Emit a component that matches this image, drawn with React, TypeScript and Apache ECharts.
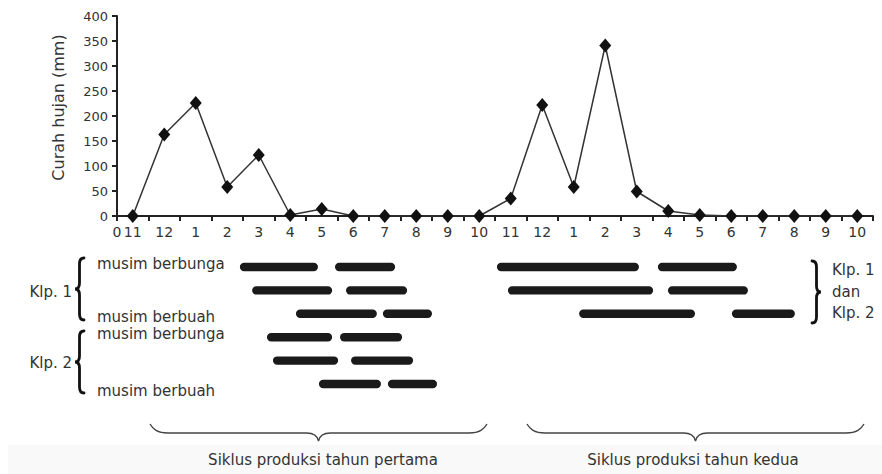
import React, { useEffect, useRef } from 'react';
import * as echarts from 'echarts';

// ---- Data ----
const monthLabels = ['11', '12', '1', '2', '3', '4', '5', '6', '7', '8', '9', '10', '11', '12', '1', '2', '3', '4', '5', '6', '7', '8', '9', '10'];
const rainfall = [0, 163, 226, 58, 122, 2, 14, 0, 0, 0, 0, 0, 35, 222, 58, 341, 49, 10, 2, 0, 0, 0, 0, 0];
const yMax = 400;
const yInterval = 50;
const rowLabels = ['Klp1 berbunga', 'Klp1 tengah', 'Klp1 berbuah', 'Klp2 berbunga', 'Klp2 tengah', 'Klp2 berbuah'];
// [row, start, end] in month units along the axis
const klp1Bars = [
  [0, 3.9, 6.38], [0, 6.92, 8.83],
  [1, 4.29, 6.83], [1, 7.27, 9.21],
  [2, 5.68, 8.25], [2, 8.44, 10.0],
];
const klp2Bars = [
  [3, 4.76, 6.83], [3, 7.08, 9.05],
  [4, 4.95, 7.02], [4, 7.43, 9.4],
  [5, 6.41, 8.38], [5, 8.6, 10.16],
];
const jointBars = [
  [0, 12.06, 16.57], [0, 17.17, 19.68],
  [1, 12.41, 17.02], [1, 17.49, 20.03],
  [2, 14.67, 18.35], [2, 19.52, 21.52],
];

// ---- Decorative brace shapes ----
const braceLeftD = 'M9,0 C5.5,0 4.5,2 4.5,6 L4.5,25 C4.5,29 3,31 0,31 C3,31 4.5,33 4.5,37 L4.5,56 C4.5,60 5.5,62 9,62';
const braceRightD = 'M0,0 C3.5,0 4.5,2 4.5,6 L4.5,25 C4.5,29 6,31 9,31 C6,31 4.5,33 4.5,37 L4.5,56 C4.5,60 3.5,62 0,62';
const braceHD = 'M0,0 C3,5 7,9 18,9 L156.5,9 C163.5,9 167.5,12 168.5,17 C169.5,12 173.5,9 180.5,9 L319,9 C330,9 334,5 337,0';
echarts.graphic.registerShape('braceLeft', echarts.graphic.extendPath(braceLeftD, {}));
echarts.graphic.registerShape('braceRight', echarts.graphic.extendPath(braceRightD, {}));
echarts.graphic.registerShape('braceH', echarts.graphic.extendPath(braceHD, {}));

const FONT = 'DejaVu Sans';
const TXT = '#333';
const AX = '#222';

function label(text: string, x: number, y: number, align: string = 'left', size = 15) {
  return {
    type: 'text',
    x,
    y,
    style: {
      text,
      fill: TXT,
      fontSize: size,
      fontFamily: FONT,
      align,
      verticalAlign: 'middle',
      textAlign: align,
      textVerticalAlign: 'middle',
    },
  };
}

export default function App() {
  const ref = useRef<HTMLDivElement>(null);
  useEffect(() => {
    document.body.style.margin = '0';
    const chart = echarts.init(ref.current!, null, { renderer: 'svg' });
    const barData = [...klp1Bars, ...klp2Bars, ...jointBars].map((b) => [b[1], b[0], b[2]]);
    const braceStyle = { stroke: '#111', lineWidth: 2.8, fill: 'none', lineCap: 'round' };
    const hBraceStyle = { stroke: '#444', lineWidth: 1.4, fill: 'none' };
    chart.setOption({
      animation: false,
      backgroundColor: '#fff',
      grid: [
        { left: 117, right: 9, top: 16, height: 200 },
        { left: 117, right: 9, top: 255.3, height: 140.4 },
      ],
      xAxis: [
        {
          type: 'category',
          gridIndex: 0,
          data: monthLabels,
          boundaryGap: true,
          axisLine: { show: true, lineStyle: { color: AX, width: 2 } },
          axisTick: { show: true, alignWithLabel: false, length: 5, lineStyle: { color: AX, width: 2 } },
          axisLabel: { interval: 0, fontSize: 14, color: TXT, fontFamily: FONT, margin: 9 },
          splitLine: { show: false },
        },
        {
          type: 'value',
          gridIndex: 0,
          position: 'bottom',
          min: 0,
          max: 24,
          interval: 24,
          axisLine: { show: false },
          axisTick: { show: false },
          splitLine: { show: false },
          axisLabel: {
            fontSize: 14,
            color: TXT,
            fontFamily: FONT,
            margin: 9,
            formatter: (v: number) => (v === 0 ? '0' : ''),
          },
        },
        { type: 'value', gridIndex: 1, min: 0, max: 24, show: false },
      ],
      yAxis: [
        {
          type: 'value',
          gridIndex: 0,
          min: 0,
          max: yMax,
          interval: yInterval,
          name: 'Curah hujan (mm)',
          nameLocation: 'middle',
          nameRotate: 90,
          nameGap: 51,
          nameTextStyle: { fontSize: 16, color: TXT, fontFamily: FONT, padding: [0, 0, 0, 17] },
          axisLine: { show: true, lineStyle: { color: AX, width: 2 } },
          axisTick: { show: true, length: 5, lineStyle: { color: AX, width: 2 } },
          axisLabel: { fontSize: 13, color: TXT, fontFamily: FONT, margin: 9 },
          splitLine: { show: false },
        },
        { type: 'category', gridIndex: 1, data: rowLabels, inverse: true, show: false },
      ],
      series: [
        {
          type: 'line',
          xAxisIndex: 0,
          yAxisIndex: 0,
          data: rainfall,
          symbol: 'diamond',
          symbolSize: [12, 14],
          showAllSymbol: true,
          lineStyle: { color: '#333', width: 1.5 },
          itemStyle: { color: '#111' },
          z: 3,
        },
        {
          type: 'custom',
          xAxisIndex: 2,
          yAxisIndex: 1,
          data: barData,
          encode: { x: [0, 2], y: 1 },
          clip: false,
          renderItem: (params: any, api: any) => {
            const s = api.value(0);
            const row = api.value(1);
            const e = api.value(2);
            const p0 = api.coord([s, row]);
            const p1 = api.coord([e, row]);
            const h = api.size([0, 1])[1] * 0.36;
            return {
              type: 'rect',
              shape: { x: p0[0], y: p0[1] - h / 2, width: p1[0] - p0[0], height: h, r: h / 2 },
              style: { fill: '#1a1a1a' },
            };
          },
        },
      ],
      graphic: [
        { type: 'rect', shape: { x: 8, y: 445, width: 874, height: 29 }, style: { fill: '#f9f9f9' }, z: -10, silent: true },
        label('musim berbunga', 97, 264),
        label('musim berbuah', 97, 317),
        label('musim berbunga', 97, 334),
        label('musim berbuah', 97, 391),
        label('Klp. 1', 72, 292, 'right'),
        label('Klp. 2', 72, 363, 'right'),
        label('Klp. 1', 832, 270),
        label('dan', 832, 292),
        label('Klp. 2', 832, 313),
        { type: 'braceLeft', x: 75, y: 258, style: braceStyle },
        { type: 'braceLeft', x: 75, y: 331, style: braceStyle },
        { type: 'braceRight', x: 812, y: 261, style: braceStyle },
        { type: 'braceH', x: 150, y: 424, style: hBraceStyle },
        { type: 'braceH', x: 527, y: 424, style: hBraceStyle },
        label('Siklus produksi tahun pertama', 323, 460, 'center'),
        label('Siklus produksi tahun kedua', 693, 460, 'center'),
      ],
    });
    return () => chart.dispose();
  }, []);
  return <div ref={ref} style={{ width: 882, height: 474 }} />;
}
